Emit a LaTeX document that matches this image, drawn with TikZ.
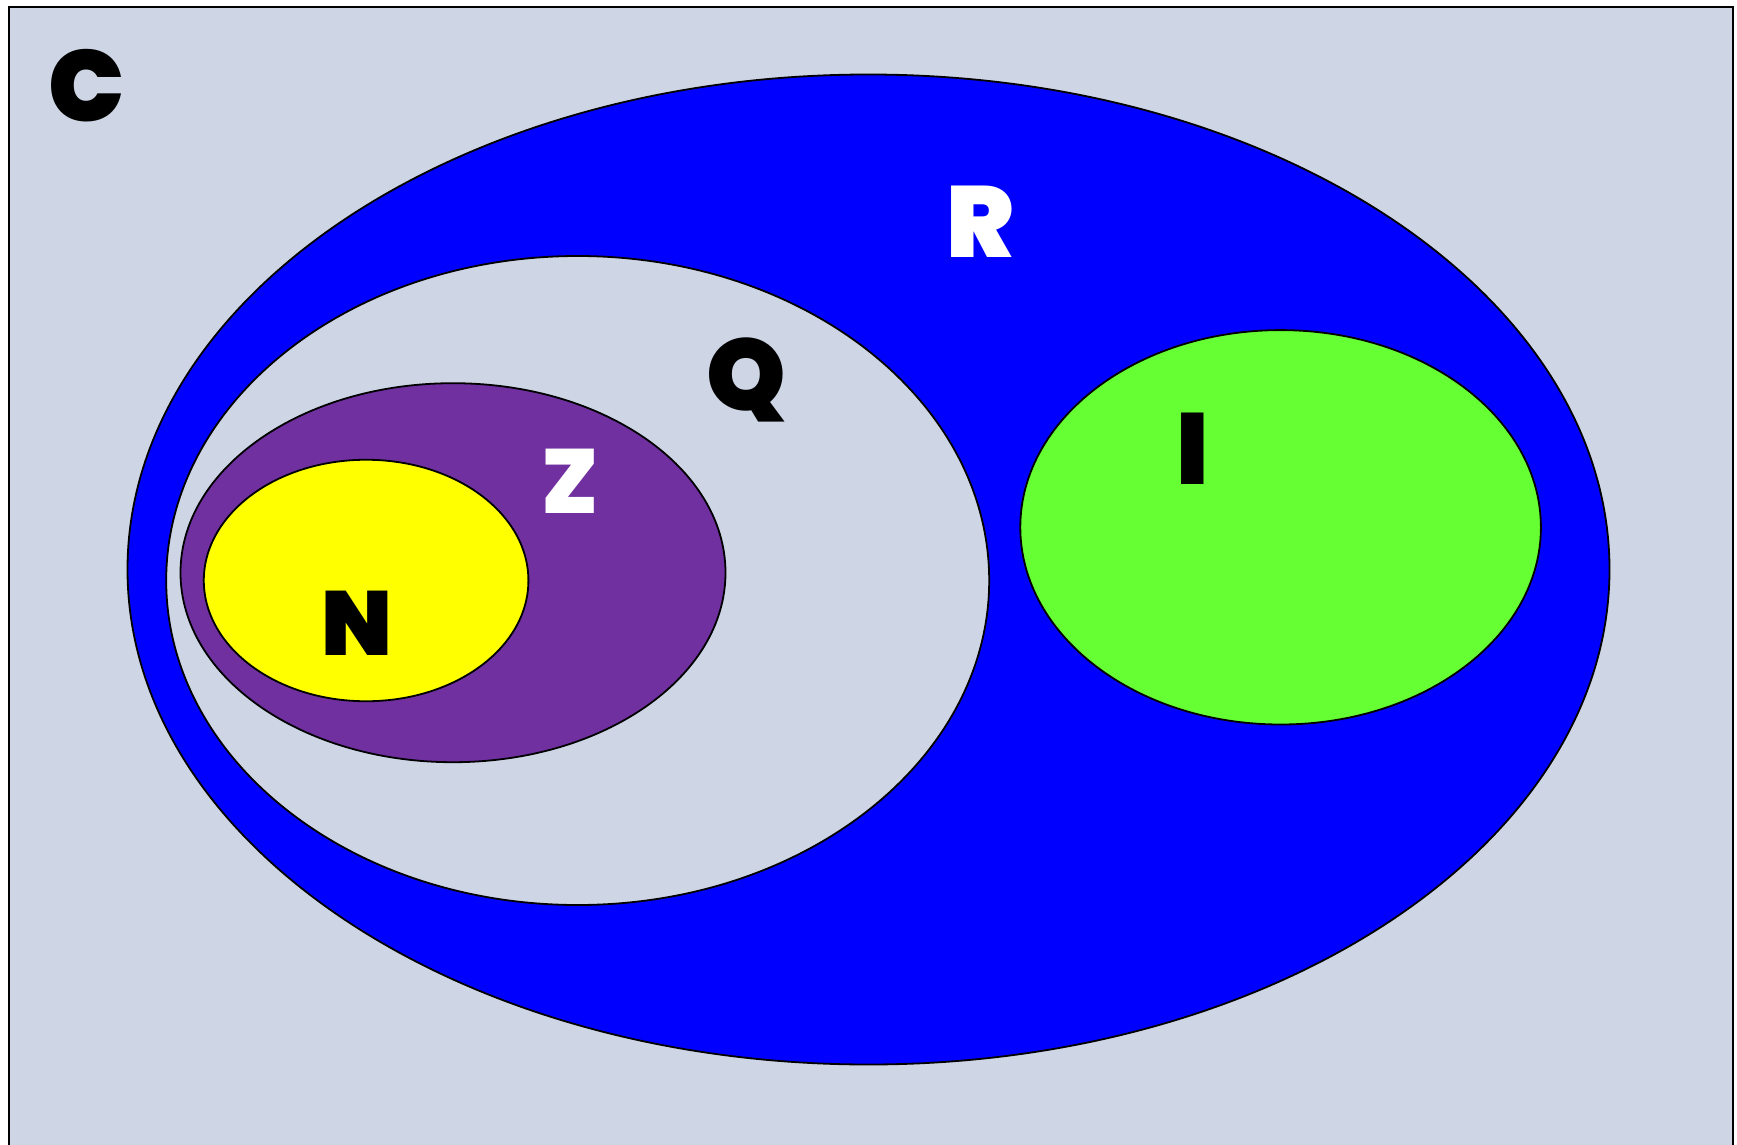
\documentclass[tikz,border=0pt]{standalone}
\usepackage{fontspec}
\newfontfamily\heavy{Poppins Black}
\usetikzlibrary{shapes.geometric}
\definecolor{bgc}{RGB}{206,214,229}
\definecolor{rblue}{RGB}{0,0,255}
\definecolor{zpurple}{RGB}{112,48,160}
\definecolor{nyellow}{RGB}{255,255,0}
\definecolor{igreen}{RGB}{102,255,51}
\tikzset{
  setell/.style={ellipse, draw=black, line width=1.8pt, inner sep=0pt},
  biglab/.style={font=\heavy\fontsize{101}{101}\selectfont, inner sep=0pt, anchor=base},
  midlab/.style={font=\heavy\fontsize{91}{91}\selectfont, inner sep=0pt, anchor=base}
}
\begin{document}
\begin{tikzpicture}[x=1pt,y=-1pt]
\useasboundingbox (0,0) rectangle (1737,1145);
\fill[white] (0,0) rectangle (1737,1145);
\node[draw=black, line width=2.4pt, fill=bgc, minimum width=1724pt, minimum height=1160pt, anchor=north west, inner sep=0pt] (C) at (7.5,6) {};
\node[setell, fill=rblue, minimum width=1482pt, minimum height=990pt] (R) at (868.5,569.5) {};
\node[setell, fill=bgc, minimum width=823pt, minimum height=649pt] (Q) at (577.7,580.5) {};
\node[setell, fill=zpurple, minimum width=545pt, minimum height=379pt] (Z) at (453,572.7) {};
\node[setell, fill=nyellow, minimum width=324.6pt, minimum height=241.5pt] (N) at (366.1,580.5) {};
\node[setell, fill=igreen, minimum width=520.6pt, minimum height=394.4pt] (I) at (1280.6,527.3) {};
\node[biglab, text=black] (lC) at (86.4,121.9) {C};
\node[biglab, text=white] (lR) at (980.4,257) {R};
\node[biglab, text=black] (lQ) at (746.7,410) {Q};
\node[midlab, text=white] (lZ) at (570.5,513) {Z};
\node[midlab, text=black] (lN) at (356.7,655.8) {N};
\node[biglab, text=black] (lI) at (1193,484) {I};
\end{tikzpicture}
\end{document}
